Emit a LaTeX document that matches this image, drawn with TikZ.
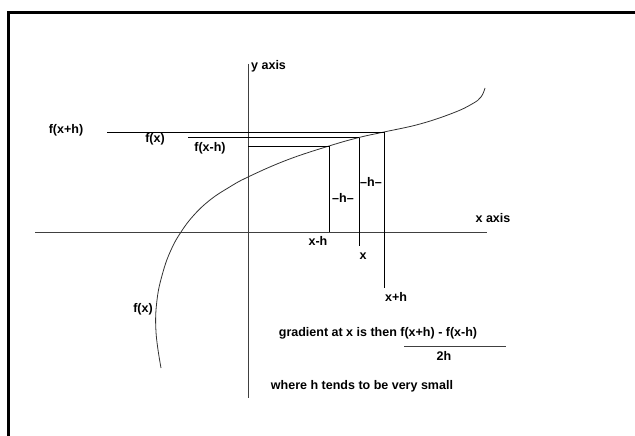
\documentclass[tikz,border=0pt]{standalone}
\usepackage{fontspec}
\setmainfont{Liberation Sans}
\usetikzlibrary{positioning}

\begin{document}
\begin{tikzpicture}[x=1pt,y=-1pt,
  lbl/.style={font=\bfseries\fontsize{12.5}{14}\selectfont, inner sep=0pt},
  axis/.style={draw=black!75, line width=0.9pt},
  guide/.style={draw=black, line width=0.9pt}
]
  \useasboundingbox (0,0) rectangle (635,436);
  \draw[line width=3pt] (8.5,436) -- (8.5,12.5) -- (635,12.5);

  % axes
  \coordinate (ytop) at (248,64);
  \coordinate (ybot) at (248,398);
  \coordinate (xleft) at (35,232);
  \coordinate (xright) at (487,232);
  \draw[axis] (ytop) -- (ybot);
  \draw[axis] (xleft) -- (xright);
  \node[lbl, anchor=west] (ylab) at (251,66) {y axis};
  \node[lbl] (xlab) at (493,218) {x axis};

  % points on the curve
  \coordinate (pm) at (329,146);
  \coordinate (p0) at (359,137.5);
  \coordinate (pp) at (384,132);
  \coordinate (bm) at (329,232);
  \coordinate (b0) at (359,246);
  \coordinate (bp) at (384,288);
  \coordinate (lp) at (107,132);
  \coordinate (l0) at (188,137.5);
  \coordinate (lm) at (248,146);

  % the curve
  \draw[black!80, line width=0.8pt] plot[smooth, tension=0.7] coordinates {
    (161,368) (156,332) (157,300) (163,272) (171,250) (181,232) (194,215)
    (210,200) (228,188) (248,177) (287,160) (329,146) (359,137.5) (384,132)
    (420,124) (453,113) (472,104) (481,97) (485,88)};

  % guide lines
  \draw[guide] (lp) -- (pp);
  \draw[guide] (l0) -- (p0);
  \draw[guide] (lm) -- (pm);
  \draw[guide] (pm) -- (bm);
  \draw[guide] (p0) -- (b0);
  \draw[guide] (pp) -- (bp);

  % labels
  \node[lbl] (fxph) at (66,130) {f(x+h)};
  \node[lbl] (fx) at (155,139) {f(x)};
  \node[lbl] (fxmh) at (210,148) {f(x-h)};
  \node[lbl] (fxc) at (143,309) {f(x)};
  \node[lbl] (hone) at (343,198) {--h--};
  \node[lbl] (htwo) at (371,182) {--h--};
  \node[lbl] (xmh) at (318,241) {x-h};
  \node[lbl] (xx) at (363,256) {x};
  \node[lbl] (xph) at (396,297) {x+h};

  % gradient text
  \node[lbl] (grad) at (378,333) {gradient at x is then f(x+h) - f(x-h)};
  \coordinate (fl) at (404,346);
  \coordinate (fr) at (506,346);
  \draw[black!75, line width=0.9pt] (fl) -- (fr);
  \node[lbl] (twoh) at (444,356) {2h};
  \node[lbl] (small) at (362,386) {where h tends to be very small};
\end{tikzpicture}
\end{document}
